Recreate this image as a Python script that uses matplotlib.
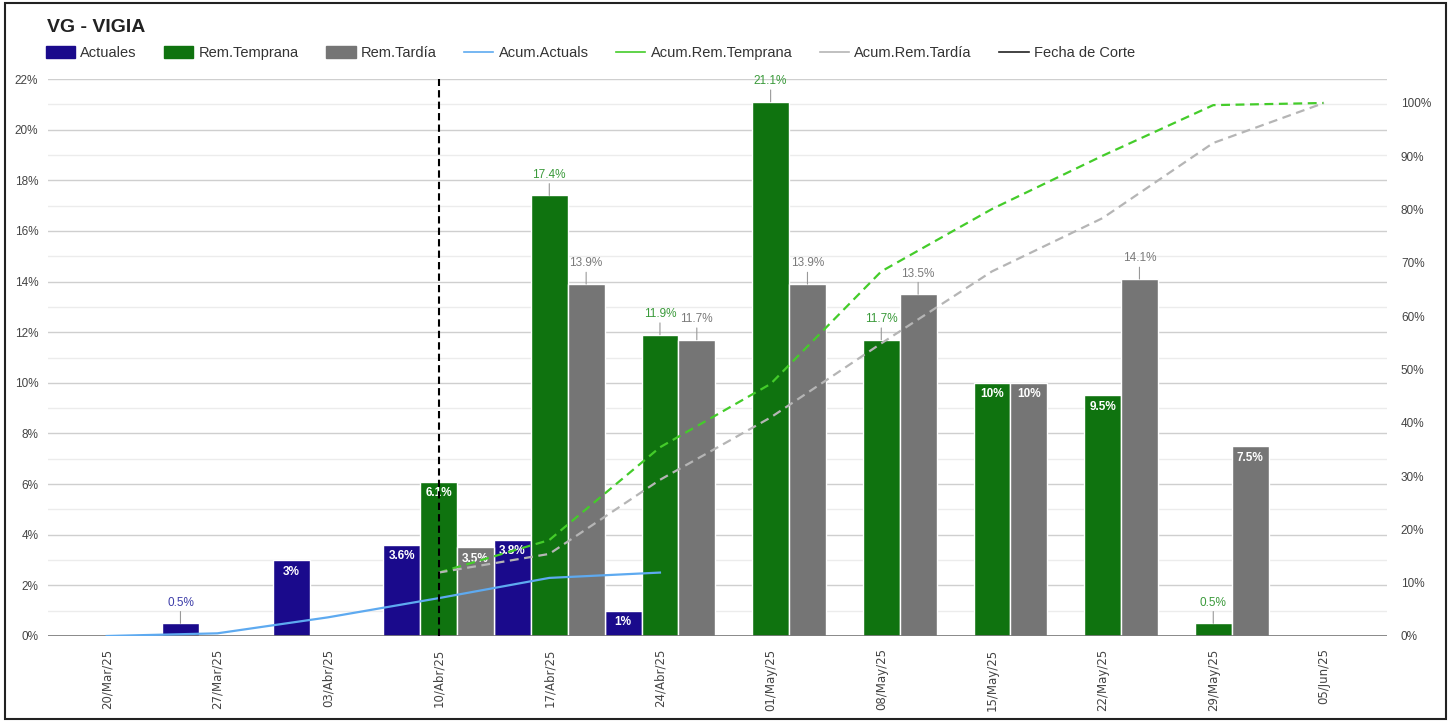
import matplotlib.pyplot as plt
import numpy as np
from matplotlib.patches import Patch, Rectangle
from matplotlib.lines import Line2D

plt.rcParams['font.family'] = ['Liberation Sans', 'DejaVu Sans']

fechas = ["20/Mar/25", "27/Mar/25", "03/Abr/25", "10/Abr/25", "17/Abr/25", "24/Abr/25",
          "01/May/25", "08/May/25", "15/May/25", "22/May/25", "29/May/25", "05/Jun/25"]
actuales = [0, 0.5, 3, 3.6, 3.8, 1, 0, 0, 0, 0, 0, 0]
rem_temprana = [0, 0, 0, 6.1, 17.4, 11.9, 21.1, 11.7, 10, 9.5, 0.5, 0]
rem_tardia = [0, 0, 0, 3.5, 13.9, 11.7, 13.9, 13.5, 10, 14.1, 7.5, 0]

# acumulados (eje derecho)
fechas_acum_act = fechas[0:6]
acum_actuals = [0, 0.5, 3.5, 7.1, 10.9, 11.9]
fechas_acum_rem = fechas[3:]
acum_temprana = [11.9, 18.0, 35.4, 47.3, 68.4, 80.1, 90.1, 99.6, 100.0]
acum_tardia = [11.9, 15.4, 29.3, 41.0, 54.9, 68.4, 78.4, 92.5, 100.0]
fecha_corte = "10/Abr/25"

c_act = '#1a0a8c'
c_tem = '#0f730f'
c_tar = '#757575'
c_acum_act = '#5eaaf0'
c_acum_tem = '#44cc2a'
c_acum_tar = '#b5b5b5'

# etiquetas que van dentro de la barra (serie, indice)
dentro = {(0, 2), (0, 3), (0, 4), (0, 5), (1, 3), (2, 3), (1, 8), (2, 8), (1, 9), (2, 10)}

fig = plt.figure(figsize=(14.5, 7.22), dpi=100)
ax = fig.add_axes([48 / 1450, 1 - 636 / 722, (1387 - 48) / 1450, (636 - 79) / 722])
ax2 = ax.twinx()

x = np.arange(len(fechas))
w = 0.333
series = [(actuales, c_act, '#3c3ca8'), (rem_temprana, c_tem, '#3a9a3a'), (rem_tardia, c_tar, '#7a7a7a')]
for s, (vals, col, tcol) in enumerate(series):
    xs = x + (s - 1) * w
    ax.bar(xs, vals, width=w, color=col, edgecolor='white', linewidth=1, zorder=3)
    for i, v in enumerate(vals):
        if v == 0:
            continue
        txt = f"{v:g}%"
        if (s, i) in dentro:
            ax.annotate(txt, (xs[i], v), xytext=(0, -4), textcoords='offset points',
                        ha='center', va='top', color='white', fontsize=8.5,
                        fontweight='bold', zorder=4)
        else:
            ax.annotate(txt, (xs[i], v), xytext=(0, 10.5), textcoords='offset points',
                        ha='center', va='bottom', color=tcol, fontsize=8.5, zorder=4,
                        arrowprops=dict(arrowstyle='-', color='#999999', lw=0.8,
                                        shrinkA=0, shrinkB=0))

ax.set_xlim(-0.53, 11.57)
ax.set_ylim(0, 22)
ax.set_yticks(np.arange(0, 23, 2))
ax.set_yticks(np.arange(1, 22, 2), minor=True)
ax.set_yticklabels([f"{t}%" for t in range(0, 23, 2)])
ax.grid(axis='y', which='major', color='#cfcfcf', lw=1, zorder=0)
ax.grid(axis='y', which='minor', color='#ececec', lw=1, zorder=0)
ax.set_axisbelow(True)
ax.axhline(0, color='#777777', lw=1.2, zorder=5)
ax.set_xticks(x)
ax.set_xticklabels(fechas, rotation=90, fontsize=8.5, color='#444444', family='DejaVu Sans')
ax.tick_params(axis='x', length=0, pad=9)
ax.tick_params(axis='y', which='both', length=0, pad=7, labelsize=8.5, labelcolor='#444444')
for sp in ax.spines.values():
    sp.set_visible(False)

ix_act = [fechas.index(f) for f in fechas_acum_act]
ix_rem = [fechas.index(f) for f in fechas_acum_rem]
ax2.plot(ix_act, acum_actuals, color=c_acum_act, lw=1.6, zorder=3)
ax2.plot(ix_rem, acum_temprana, color=c_acum_tem, lw=1.6, dashes=(4, 2.5), zorder=3)
ax2.plot(ix_rem, acum_tardia, color=c_acum_tar, lw=1.6, dashes=(4, 2.5), zorder=3)
ax2.axvline(fechas.index(fecha_corte), color='black', lw=1.5, dashes=(3.5, 2), zorder=4)
ax2.set_ylim(0, 104.5)
ax2.set_yticks(np.arange(0, 101, 10))
ax2.set_yticklabels([f"{t}%" for t in range(0, 101, 10)])
ax2.tick_params(axis='y', length=0, pad=10, labelsize=8.5, labelcolor='#444444')
for sp in ax2.spines.values():
    sp.set_visible(False)

fig.text(47 / 1450, 1 - 32 / 722, 'VG - VIGIA', fontsize=14, fontweight='bold',
         color='#222222', va='baseline')

handles = [
    Patch(color=c_act, label='Actuales'),
    Patch(color=c_tem, label='Rem.Temprana'),
    Patch(color=c_tar, label='Rem.Tardía'),
    Line2D([], [], color=c_acum_act, lw=1.2, label='Acum.Actuals'),
    Line2D([], [], color=c_acum_tem, lw=1.2, label='Acum.Rem.Temprana'),
    Line2D([], [], color=c_acum_tar, lw=1.2, label='Acum.Rem.Tardía'),
    Line2D([], [], color='#222222', lw=1.2, label='Fecha de Corte'),
]
leg = fig.legend(handles=handles, loc='center left', bbox_to_anchor=(40 / 1450, 1 - 53 / 722),
                 ncol=7, frameon=False, fontsize=10.5, handlelength=2.0, handleheight=0.85,
                 handletextpad=0.35, columnspacing=1.9, borderaxespad=0)
for t in leg.get_texts():
    t.set_color('#333333')

fig.patches.append(Rectangle((5 / 1450, 3 / 722), 1441 / 1450, 716 / 722, transform=fig.transFigure,
                             fill=False, edgecolor='#222222', lw=1.5))

plt.savefig('out.png', dpi=100)
